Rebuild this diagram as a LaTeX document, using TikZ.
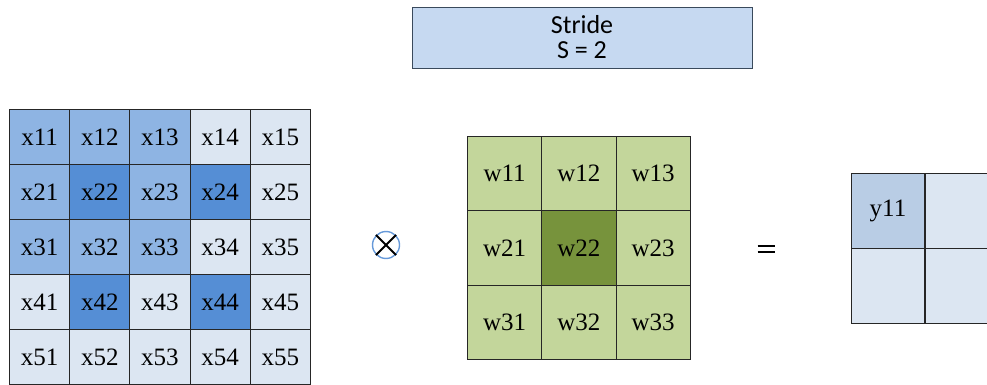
\documentclass[tikz,border=0pt]{standalone}
\usepackage{fontspec}
\setmainfont{Liberation Serif}
\newfontfamily\stridefont{Carlito}
\usetikzlibrary{positioning}

\definecolor{xlite}{HTML}{DCE6F2}
\definecolor{xmid}{HTML}{8EB4E3}
\definecolor{xdark}{HTML}{558ED5}
\definecolor{wlite}{HTML}{C3D69B}
\definecolor{wdark}{HTML}{77933C}
\definecolor{ylite}{HTML}{DCE6F2}
\definecolor{ymid}{HTML}{B9CDE5}
\definecolor{stridefill}{HTML}{C6D9F1}
\definecolor{strideline}{HTML}{3A4A5C}
\definecolor{gridline}{HTML}{262626}

\tikzset{
  cell/.style={draw=gridline,line width=0.9pt,inner sep=0pt,anchor=north west,
    font=\fontsize{25}{27}\selectfont},
  xcell/.style={cell,minimum width=60.2pt,minimum height=55pt},
  wcell/.style={cell,minimum width=74.3pt,minimum height=74.3pt},
  ycell/.style={cell,minimum width=73pt,minimum height=74.5pt},
  stridebox/.style={draw=strideline,line width=0.9pt,fill=stridefill,
    minimum width=340pt,minimum height=61pt,inner sep=0pt,align=center,
    font=\stridefont\fontsize{26}{25}\selectfont}
}

\begin{document}
\begin{tikzpicture}[x=1pt,y=-1pt]

\useasboundingbox (0,0) rectangle (987,385);
\clip (0,0) rectangle (987,385);

\node[stridebox] (stride) at (582,37.5) {Stride\\S = 2};

% input x
\def\xleft{9}
\def\xtop{109}
\foreach \r/\cols in {1/{xmid,xmid,xmid,xlite,xlite},
                      2/{xmid,xdark,xmid,xdark,xlite},
                      3/{xmid,xmid,xmid,xlite,xlite},
                      4/{xlite,xdark,xlite,xdark,xlite},
                      5/{xlite,xlite,xlite,xlite,xlite}} {
  \foreach \col [count=\c] in \cols {
    \node[xcell,fill=\col] (x\r\c) at (\xleft+60.2*\c-60.2, \xtop+55*\r-55) {x\r\c};
  }
}

% kernel w
\def\wleft{467}
\def\wtop{136}
\foreach \r in {1,2,3} {
  \foreach \c in {1,2,3} {
    \node[wcell,fill=wlite] (w\r\c) at (\wleft+74.3*\c-74.3, \wtop+74.3*\r-74.3) {w\r\c};
  }
}
\node[wcell,fill=wdark] (w22) at (\wleft+74.3, \wtop+74.3) {w22};

% output y
\node[ycell,fill=ymid] (y11) at (851,173) {y11};
\node[ycell,fill=ylite,right=0pt of y11.north east,anchor=north west] (y12) {};
\node[ycell,fill=ylite,below=0pt of y11.south west,anchor=north west] (y21) {};
\node[ycell,fill=ylite,right=0pt of y21.north east,anchor=north west] (y22) {};

% operators
\node[draw=xdark!90,line width=1.4pt,circle,minimum size=27pt,inner sep=0pt] (conv) at (386,245) {};
\draw[line width=2pt] (conv.45) -- (conv.225) (conv.135) -- (conv.315);

\coordinate (eq) at (766,249);
\draw[line width=2.4pt] ([xshift=-8.5pt,yshift=-3pt]eq) -- ([xshift=8.5pt,yshift=-3pt]eq)
                        ([xshift=-8.5pt,yshift=3pt]eq) -- ([xshift=8.5pt,yshift=3pt]eq);

\end{tikzpicture}
\end{document}
